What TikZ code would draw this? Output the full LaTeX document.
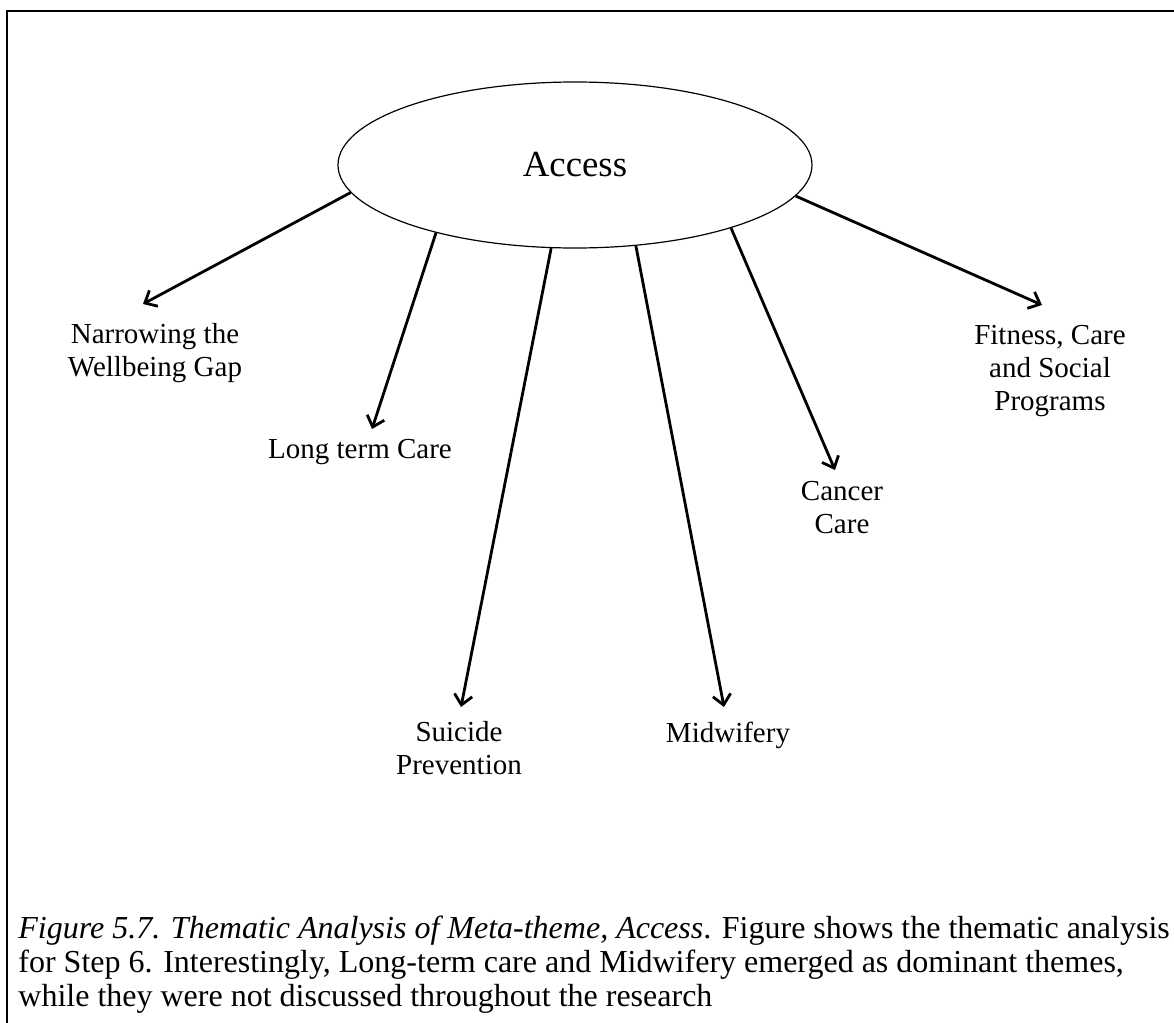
\documentclass[tikz,border=0pt]{standalone}
\usepackage{fontspec}
\setmainfont{Liberation Serif}
\usetikzlibrary{shapes.geometric,arrows.meta}

\begin{document}
\begin{tikzpicture}[x=0.5pt,y=0.5pt,yscale=-1,xscale=1,
  metatheme/.style={draw, ellipse, line width=0.6pt, inner sep=0pt, minimum width=237pt, minimum height=83pt, font=\fontsize{18.4}{21}\selectfont},
  themetext/.style={align=center, inner sep=0pt, font=\fontsize{14.5}{16.5}\selectfont},
  themearrow/.style={-{Straight Barb[length=5pt,width=9pt]}, line width=1.4pt, black}]

\useasboundingbox (0,0) rectangle (1174,1023);

%%%%%%%%%%%%%%%%%%%%%%%%%%%%%%%%%%%%%%%%%%%%%%%%%%%%%%%%%%%%%%%%%%%%%%%%

\draw [line width=1.3pt, black] (7,1023) -- (7,11) -- (1174,11);

\node [metatheme] (access) at (575,165) {Access};

%%%%%%%%%%%%%%%%%%%%%%%%%%%%%%%%%%%%%%%%%%%%%%%%%%%%%%%%%%%%%%%%%%%%%%%%

\coordinate (narrowtip) at (143,304);
\draw [themearrow] (access.187.2) -- (narrowtip);
\node [themetext] (narrow) at (155,353) {Narrowing the\\Wellbeing Gap};

\coordinate (longtip) at (372,429);
\draw [themearrow] (access.206.4) -- (longtip);
\node [themetext] (longterm) at (360,452) {Long term Care};

\coordinate (suicidetip) at (461,707);
\draw [themearrow] (access.254.3) -- (suicidetip);
\node [themetext] (suicide) at (459,748) {Suicide\\Prevention};

\coordinate (midwiftip) at (724,707);
\draw [themearrow] (access.307.5) -- (midwiftip);
\node [themetext] (midwif) at (728,735) {Midwifery};

\coordinate (cancertip) at (835,470);
\draw [themearrow] (access.338.8) -- (cancertip);
\node [themetext] (cancer) at (842,508) {Cancer\\Care};

\coordinate (fitnesstip) at (1042,305);
\draw [themearrow] (access.352.7) -- (fitnesstip);
\node [themetext] (fitness) at (1050,371) {Fitness, Care\\and Social\\Programs};

%%%%%%%%%%%%%%%%%%%%%%%%%%%%%%%%%%%%%%%%%%%%%%%%%%%%%%%%%%%%%%%%%%%%%%%%

\node [anchor=north west, align=left, inner sep=0pt, font=\fontsize{16}{17}\selectfont] (caption) at (18,916)
  {\textit{Figure 5.7. Thematic Analysis of Meta-theme, Access}. Figure shows the thematic analysis\\
   for Step 6. Interestingly, Long-term care and Midwifery emerged as dominant themes,\\
   while they were not discussed throughout the research};

%%%%%%%%%%%%%%%%%%%%%%%%%%%%%%%%%%%%%%%%%%%%%%%%%%%%%%%%%%%%%%%%%%%%%%%%

\end{tikzpicture}
\end{document}
